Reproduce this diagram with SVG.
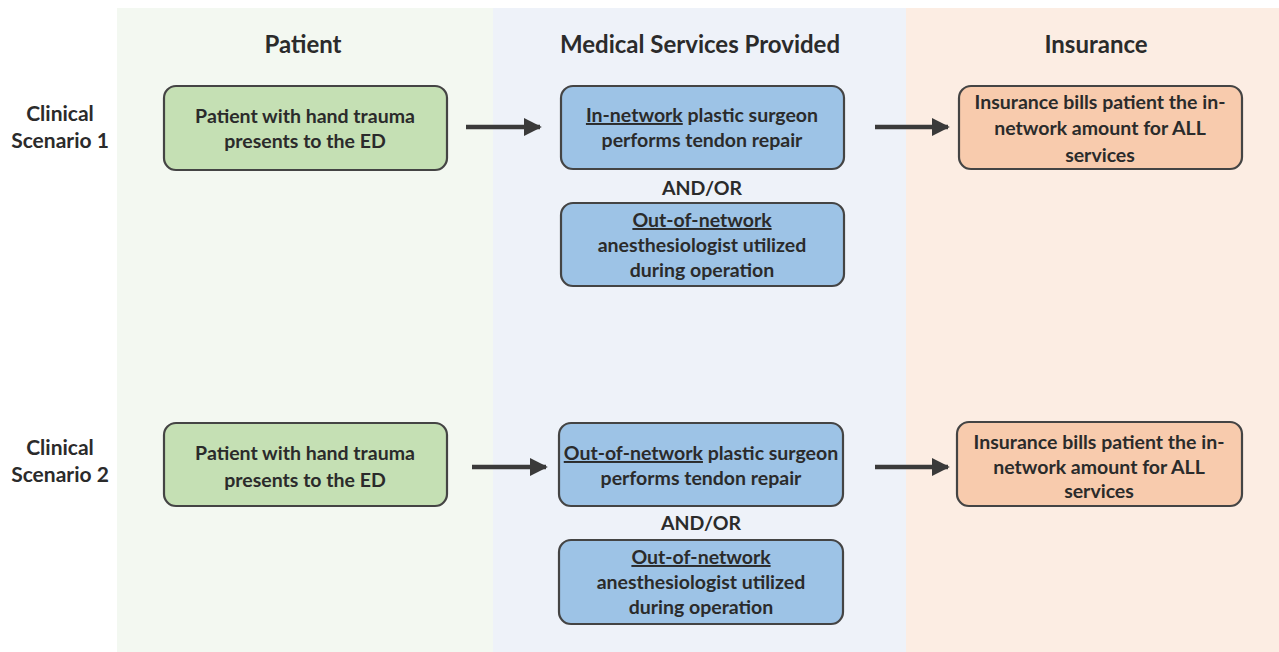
<svg xmlns="http://www.w3.org/2000/svg" width="1279" height="652" viewBox="0 0 1279 652">
<style>
text{font-family:Lato,"Open Sans","Liberation Sans",sans-serif;font-weight:700;fill:#2b2b2b;text-anchor:middle}
.hd{font-size:24px}
.lb{font-size:21px}
.t{font-size:19.5px}
.box{stroke:#444;stroke-width:2.2}
.g{fill:#c5e0b4}
.b{fill:#9dc3e6}
.o{fill:#f8cbad}
.u{text-decoration:underline}
.arr{stroke:#3a3a3a;stroke-width:4.5;fill:none}
</style>
<defs>
<marker id="ah" viewBox="0 0 10 10" refX="9" refY="5" markerWidth="4" markerHeight="4" orient="auto" markerUnits="strokeWidth">
<path d="M0,0 L10,5 L0,10 z" fill="#3a3a3a"/>
</marker>
</defs>
<rect width="1279" height="652" fill="#ffffff"/>
<g id="panels">
<rect x="117" y="8" width="376" height="644" fill="#f3f8f1"/>
<rect x="493" y="8" width="413" height="644" fill="#eef2f9"/>
<rect x="906" y="8" width="373" height="644" fill="#fcede3"/>
</g>
<g id="headers">
<text class="hd" x="303" y="53">Patient</text>
<text class="hd" x="700" y="53">Medical Services Provided</text>
<text class="hd" x="1096" y="53">Insurance</text>
</g>
<g id="row-labels">
<text class="lb" x="60" y="121">Clinical</text>
<text class="lb" x="60" y="148">Scenario 1</text>
<text class="lb" x="60" y="455">Clinical</text>
<text class="lb" x="60" y="482">Scenario 2</text>
</g>
<g id="s1-patient">
<rect class="box g" x="164" y="86" width="283" height="84" rx="12"/>
<text class="t" x="305" y="123">Patient with hand trauma</text>
<text class="t" x="305" y="148">presents to the ED</text>
</g>
<g id="s1-surgeon">
<rect class="box b" x="561" y="86" width="283" height="83" rx="12"/>
<text class="t" x="702" y="122"><tspan class="u">In-network</tspan> plastic surgeon</text>
<text class="t" x="702" y="147">performs tendon repair</text>
</g>
<g id="s1-andor"><text class="t" x="702" y="195">AND/OR</text></g>
<g id="s1-anesth">
<rect class="box b" x="561" y="203" width="283" height="83" rx="12"/>
<text class="t" x="702" y="227"><tspan class="u">Out-of-network</tspan></text>
<text class="t" x="702" y="252">anesthesiologist utilized</text>
<text class="t" x="702" y="277">during operation</text>
</g>
<g id="s1-insurance">
<rect class="box o" x="959" y="86" width="283" height="83" rx="12"/>
<text class="t" x="1100" y="109">Insurance bills patient the in-</text>
<text class="t" x="1100" y="135">network amount for ALL</text>
<text class="t" x="1100" y="162">services</text>
</g>
<g id="s2-patient">
<rect class="box g" x="164" y="423" width="283" height="83" rx="12"/>
<text class="t" x="305" y="460">Patient with hand trauma</text>
<text class="t" x="305" y="487">presents to the ED</text>
</g>
<g id="s2-surgeon">
<rect class="box b" x="559" y="423" width="284" height="83" rx="12"/>
<text class="t" x="701" y="460"><tspan class="u">Out-of-network</tspan> plastic surgeon</text>
<text class="t" x="701" y="485">performs tendon repair</text>
</g>
<g id="s2-andor"><text class="t" x="701" y="530">AND/OR</text></g>
<g id="s2-anesth">
<rect class="box b" x="559" y="540" width="284" height="84" rx="12"/>
<text class="t" x="701" y="564"><tspan class="u">Out-of-network</tspan></text>
<text class="t" x="701" y="589">anesthesiologist utilized</text>
<text class="t" x="701" y="614">during operation</text>
</g>
<g id="s2-insurance">
<rect class="box o" x="957" y="422" width="285" height="84" rx="12"/>
<text class="t" x="1099" y="449">Insurance bills patient the in-</text>
<text class="t" x="1099" y="474">network amount for ALL</text>
<text class="t" x="1099" y="498">services</text>
</g>
<g id="connectors">
<line class="arr" x1="466" y1="127" x2="540" y2="127" marker-end="url(#ah)"/>
<line class="arr" x1="875" y1="127" x2="948" y2="127" marker-end="url(#ah)"/>
<line class="arr" x1="472" y1="467" x2="546" y2="467" marker-end="url(#ah)"/>
<line class="arr" x1="875" y1="467" x2="948" y2="467" marker-end="url(#ah)"/>
</g>
</svg>
